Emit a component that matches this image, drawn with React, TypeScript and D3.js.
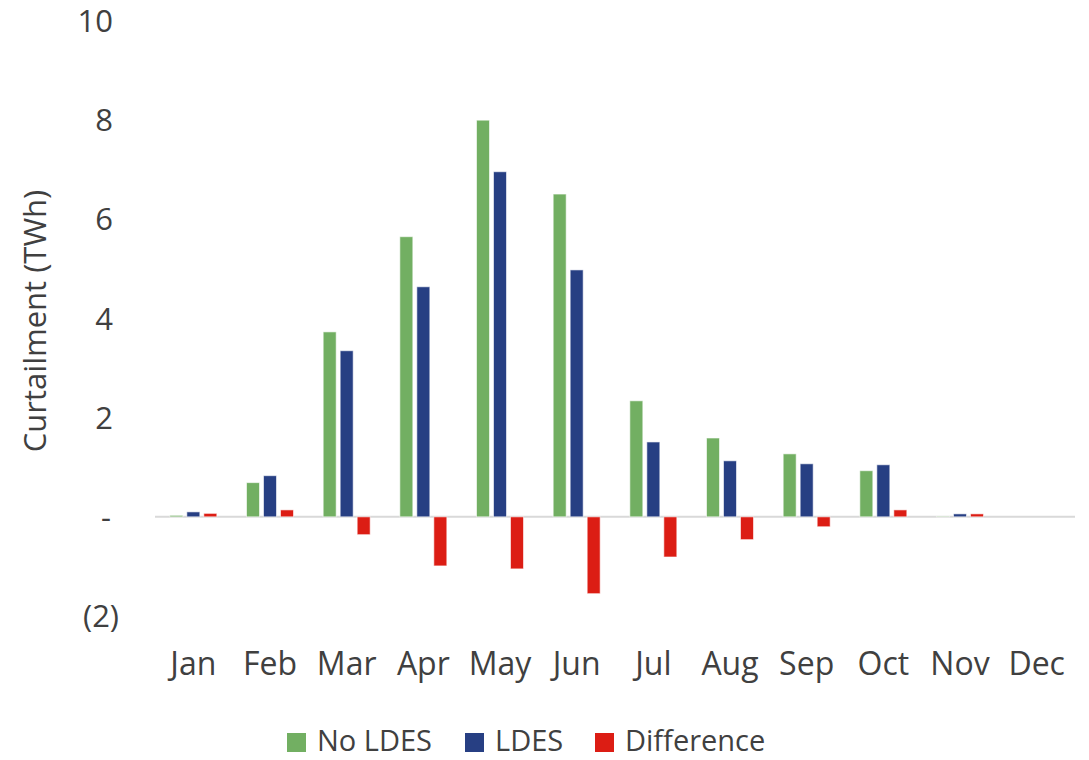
import React from 'react'
import { scaleLinear, scaleBand } from 'd3'

const months = ['Jan', 'Feb', 'Mar', 'Apr', 'May', 'Jun', 'Jul', 'Aug', 'Sep', 'Oct', 'Nov', 'Dec']
const seriesNames = ['No LDES', 'LDES', 'Difference']
const noLdes = [0.03, 0.69, 3.73, 5.65, 8.0, 6.51, 2.34, 1.59, 1.27, 0.93, 0.01, 0]
const ldes = [0.1, 0.83, 3.35, 4.64, 6.96, 4.98, 1.51, 1.13, 1.07, 1.05, 0.06, 0]
const difference = [0.07, 0.14, -0.36, -0.99, -1.05, -1.55, -0.81, -0.46, -0.2, 0.14, 0.06, 0]
const yTicks = [-2, 0, 2, 4, 6, 8, 10]

const colors = ['#72af62', '#273f83', '#dc1d14']
const font = '"Open Sans", sans-serif'
const textColor = '#404040'

const App = () => {
  const width = 1089
  const height = 760
  const values = [noLdes, ldes, difference]

  const xscale = scaleBand().domain(months).range([155, 1075])
  const inner = scaleBand().domain(seriesNames).range([0, 47]).paddingInner(0.235)
  const yscale = scaleLinear().domain([-2, 10]).range([616, 21])
  const offset = (xscale.bandwidth() - 47) / 2

  const tickLabel = (v: number) => (v === 0 ? '-' : v < 0 ? `(${-v})` : `${v}`)

  const bars = months.flatMap((m, i) =>
    seriesNames.map((s, j) => {
      const v = values[j][i]
      const y0 = yscale(0)
      const y1 = yscale(v)
      return (
        <rect
          key={m + s}
          x={(xscale(m) ?? 0) + offset + (inner(s) ?? 0)}
          y={Math.min(y0, y1)}
          width={inner.bandwidth()}
          height={Math.abs(y1 - y0)}
          fill={colors[j]}
          stroke='#ffffff'
          strokeOpacity={0.6}
          strokeWidth={1}
        />
      )
    })
  )

  const legendItems = [
    { x: 287, label: seriesNames[0] },
    { x: 465, label: seriesNames[1] },
    { x: 595, label: seriesNames[2] },
  ]

  return (
    <svg
      width={width}
      height={height}
      viewBox={`0 0 ${width} ${height}`}
      style={{ position: 'absolute', left: 0, top: 0, background: '#fff' }}
    >
      <line x1={155} x2={1075} y1={yscale(0)} y2={yscale(0)} stroke='#d9d9d9' strokeWidth={2} />
      {bars}
      {yTicks.map(t => (
        <text
          key={t}
          x={t < 0 ? 119 : t === 0 ? 111 : 113}
          y={yscale(t)}
          dy='0.36em'
          textAnchor='end'
          fontSize={31}
          fontFamily={font}
          fill={textColor}
        >
          {tickLabel(t)}
        </text>
      ))}
      {months.map(m => (
        <text
          key={m}
          x={(xscale(m) ?? 0) + xscale.bandwidth() / 2}
          y={675}
          textAnchor='middle'
          fontSize={32}
          fontFamily={font}
          fill={textColor}
        >
          {m}
        </text>
      ))}
      <text
        transform='translate(46,321) rotate(-90)'
        textAnchor='middle'
        fontSize={31}
        fontFamily={font}
        fill={textColor}
      >
        Curtailment (TWh)
      </text>
      {legendItems.map((d, i) => (
        <g key={d.label}>
          <rect x={d.x} y={733} width={19} height={19} fill={colors[i]} />
          <text x={d.x + 30} y={751} fontSize={29} fontFamily={font} fill={textColor}>
            {d.label}
          </text>
        </g>
      ))}
    </svg>
  )
}

export default App
